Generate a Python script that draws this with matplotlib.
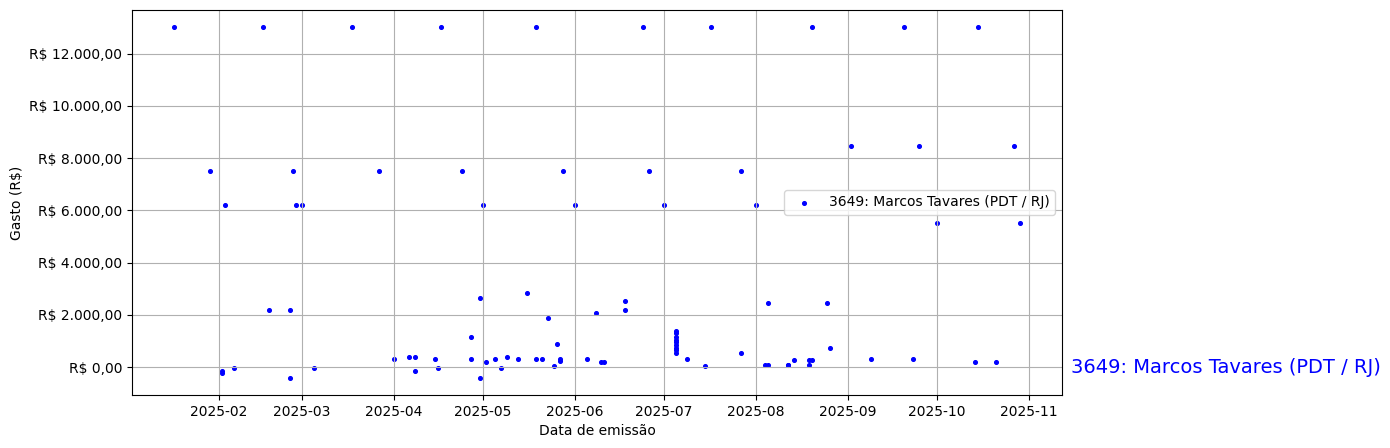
import matplotlib
matplotlib.use('Agg')
import matplotlib.pyplot as plt
import matplotlib.ticker as mticker
import pandas as pd

label = '3649: Marcos Tavares (PDT / RJ)'

# datas de emissao e valores (R$)
datas = [
    '2025-01-17', '2025-02-16', '2025-03-18', '2025-04-17', '2025-05-19',
    '2025-06-24', '2025-07-17', '2025-08-20', '2025-09-20', '2025-10-15',
    '2025-01-29', '2025-02-26', '2025-03-27', '2025-04-24', '2025-05-28',
    '2025-06-26', '2025-07-27',
    '2025-02-03', '2025-02-27', '2025-03-01', '2025-05-01', '2025-06-01',
    '2025-07-01', '2025-08-01',
    '2025-09-02', '2025-09-25', '2025-10-27',
    '2025-10-01', '2025-10-29',
    '2025-02-02', '2025-02-02', '2025-02-06', '2025-02-18', '2025-02-25',
    '2025-02-25', '2025-03-05', '2025-04-01', '2025-04-06', '2025-04-08',
    '2025-04-08', '2025-04-15', '2025-04-16', '2025-04-27', '2025-04-27',
    '2025-04-30', '2025-04-30', '2025-05-02', '2025-05-05', '2025-05-07',
    '2025-05-09', '2025-05-13', '2025-05-16', '2025-05-19', '2025-05-21',
    '2025-05-23', '2025-05-25', '2025-05-26', '2025-05-27', '2025-05-27',
    '2025-06-05', '2025-06-08', '2025-06-10', '2025-06-11', '2025-06-18',
    '2025-06-18',
    '2025-07-05', '2025-07-05', '2025-07-05', '2025-07-05', '2025-07-05',
    '2025-07-05', '2025-07-05', '2025-07-05', '2025-07-05',
    '2025-07-09', '2025-07-15', '2025-07-27', '2025-08-04', '2025-08-05',
    '2025-08-05', '2025-08-12', '2025-08-12', '2025-08-14', '2025-08-19',
    '2025-08-19', '2025-08-20', '2025-08-25', '2025-08-26', '2025-09-09',
    '2025-09-23', '2025-10-14', '2025-10-21',
]
valores = [
    13000, 13000, 13000, 13000, 13000,
    13000, 13000, 13000, 13000, 13000,
    7500, 7500, 7500, 7500, 7500,
    7500, 7500,
    6220, 6220, 6220, 6220, 6220,
    6220, 6220,
    8480, 8480, 8480,
    5500, 5500,
    -150, -230, -50, 2170, 2200,
    -400, -50, 300, 400, 370,
    -130, 300, -50, 1140, 300,
    2630, -400, 180, 300, -50,
    400, 300, 2850, 300, 330,
    1900, 30, 870, 220, 300,
    330, 2090, 180, 180, 2550,
    2170,
    1400, 1300, 1150, 1050, 950,
    850, 750, 650, 550,
    300, 30, 560, 70, 100,
    2470, 100, 70, 260, 70,
    260, 260, 2470, 720, 300,
    330, 180, 180,
]

x = pd.to_datetime(datas)


def fmt_real(v, pos):
    s = f'{v:,.2f}'
    s = s.replace(',', 'X').replace('.', ',').replace('X', '.')
    return 'R$ ' + s


fig, ax = plt.subplots(figsize=(13.9, 4.48), dpi=100)
fig.subplots_adjust(left=0.095, right=0.764, top=0.978, bottom=0.118)

ax.scatter(x, valores, s=7, color='blue', label=label)
ax.yaxis.set_major_formatter(mticker.FuncFormatter(fmt_real))
ax.set_xlabel('Data de emissão')
ax.set_ylabel('Gasto (R$)')
ax.grid(True)
ax.legend(loc='center right')

# nome no fim da linha do zero
ax.text(1.01, 0, label, transform=ax.get_yaxis_transform(),
        color='blue', fontsize=14, va='center', ha='left')

fig.savefig('out.png')
